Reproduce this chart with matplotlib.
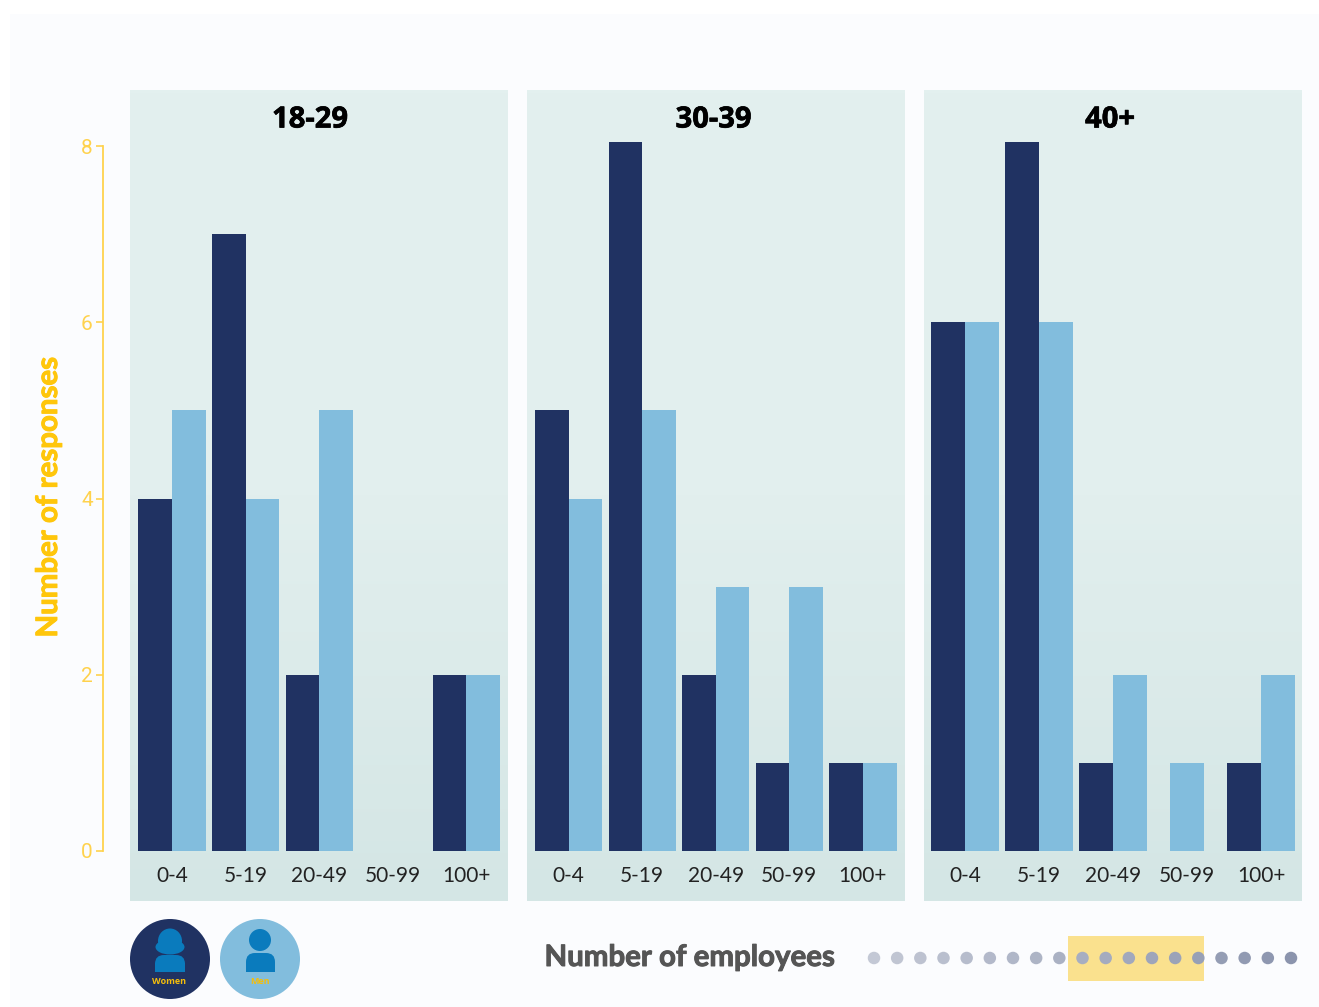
import numpy as np
import matplotlib
matplotlib.use("Agg")
import matplotlib.pyplot as plt
import matplotlib.patheffects as pe
from matplotlib.colors import LinearSegmentedColormap, to_rgb
from matplotlib.patches import Circle, Ellipse, FancyBboxPatch, Rectangle

ages = ["18-29", "30-39", "40+"]
sizes = ["0-4", "5-19", "20-49", "50-99", "100+"]
women = [[4, 7, 2, 0, 2], [5, 8.05, 2, 1, 1], [6, 8.05, 1, 0, 1]]
men = [[5, 4, 5, 0, 2], [4, 5, 3, 3, 1], [6, 6, 2, 1, 2]]
y_ticks = [0, 2, 4, 6, 8]

W, H = 1319, 1007
NAVY = "#203262"
SKY = "#82BDDD"
GOLD = "#FFD24D"
ICON = "#0A7BBD"

panel_left = [130, 527, 924]
title_x = [310, 713.5, 1110]
panel_w, panel_top, panel_bottom = 378, 90, 901
y0_px, unit_px = 851, 88.125
x0_px, step_px = [42, 41.5, 41], [73.6, 73.6, 74]

fig = plt.figure(figsize=(W / 100, H / 100), dpi=100, facecolor="white")

# pixel coordinates for everything that is not a bar
bg = fig.add_axes([0, 0, 1, 1], zorder=0)
bg.set_xlim(0, W)
bg.set_ylim(H, 0)
bg.axis("off")
bg.add_patch(Rectangle((10, 14), W - 10, H - 14, color="#FBFCFE", lw=0))

grad = LinearSegmentedColormap.from_list("panel", ["#E3F0EF", "#E2EFEE", "#D4E6E5"])


def heavy(width, colour):
    return [pe.withStroke(linewidth=width, foreground=colour)]


for i, left in enumerate(panel_left):
    ax = fig.add_axes([left / W, 1 - panel_bottom / H, panel_w / W,
                       (panel_bottom - panel_top) / H], zorder=1)
    ax.imshow(np.linspace(0, 1, 256).reshape(-1, 1), cmap=grad, aspect="auto",
              extent=(0, 1, 0, 1), transform=ax.transAxes, zorder=0)
    bar_w = 33.6 / step_px[i]
    x = np.arange(len(sizes))
    w = np.array(women[i])
    m = np.array(men[i])
    # a bar with no partner sits centred on its category
    ax.bar(x - bar_w / 2, w, bar_w, color=NAVY, zorder=2)
    ax.bar(np.where(w == 0, x, x + bar_w / 2), m, bar_w, color=SKY, zorder=2)
    ax.set_xlim(-x0_px[i] / step_px[i], (panel_w - x0_px[i]) / step_px[i])
    ax.set_ylim((y0_px - panel_bottom) / unit_px, (y0_px - panel_top) / unit_px)

    for s in ["top", "right"]:
        ax.spines[s].set_visible(False)
    ax.spines["bottom"].set_position(("data", 0))
    ax.spines["bottom"].set_visible(False)
    ax.set_xticks(x, sizes, family="Lato", fontsize=15, color="#222222")
    ax.tick_params(axis="x", length=0, pad=10.5)

    if i == 0:
        ax.spines["left"].set_position(("outward", 19.4))
        ax.spines["left"].set_bounds(0, 8)
        ax.spines["left"].set_color(GOLD)
        ax.spines["left"].set_linewidth(1.3)
        ax.set_yticks(y_ticks)
        ax.tick_params(axis="y", length=5, width=1.2, color=GOLD, pad=2.5,
                       labelcolor=GOLD, labelsize=15)
        for t in ax.get_yticklabels():
            t.set_family("Roboto")
    else:
        ax.spines["left"].set_visible(False)
        ax.set_yticks([])

    ax.text(title_x[i], 120, ages[i], transform=bg.transData, ha="center", va="center",
            family="Open Sans", weight="bold", fontsize=21, color="black",
            path_effects=heavy(0.5, "black"))

bg.text(49, 498, "Number of responses", rotation=90, ha="center", va="center",
        family="Lato", weight="bold", fontsize=21.2, color="#FFC60B",
        path_effects=heavy(0.7, "#FFC60B"))
bg.text(689, 958, "Number of employees", ha="center", va="center",
        family="Lato", weight="bold", fontsize=21.2, color="#555555",
        path_effects=heavy(0.7, "#555555"))

# legend badges
bg.add_patch(Circle((170, 959), 40, color=NAVY, lw=0))
bg.add_patch(Circle((260, 959), 40, color=SKY, lw=0))
bg.add_patch(Ellipse((170, 941), 24, 25, color=ICON, lw=0))
bg.add_patch(Ellipse((170, 947), 29, 15, color=ICON, lw=0))
bg.add_patch(FancyBboxPatch((160, 960), 20, 7, boxstyle="round,pad=5,rounding_size=9",
                            color=ICON, lw=0))
bg.add_patch(Rectangle((155, 963), 30, 9, color=ICON, lw=0))
bg.add_patch(Circle((260, 940), 11, color=ICON, lw=0))
bg.add_patch(FancyBboxPatch((251, 958), 19, 9, boxstyle="round,pad=5,rounding_size=9",
                            color=ICON, lw=0))
bg.add_patch(Rectangle((246, 963), 29, 9, color=ICON, lw=0))
bg.text(169, 982, "Women", ha="center", va="center", family="Open Sans", weight="bold",
        fontsize=6.5, color="#F5BE0B")
bg.text(260, 982, "Men", ha="center", va="center", family="Open Sans", weight="bold",
        fontsize=6.5, color="#F5BE0B")

# dotted decoration with its highlight
bg.add_patch(Rectangle((1068, 936), 136, 45, color="#FAE18E", lw=0))
dot_x = np.linspace(874, 1291, 19)
dot_alpha = np.linspace(0.27, 0.52, 19)
navy_rgb = np.array(to_rgb(NAVY))
for dx, da in zip(dot_x, dot_alpha):
    bg.add_patch(Ellipse((dx, 958), 12.5, 12.5, color=1 - da * (1 - navy_rgb), lw=0))

fig.savefig("out.png", dpi=100)
